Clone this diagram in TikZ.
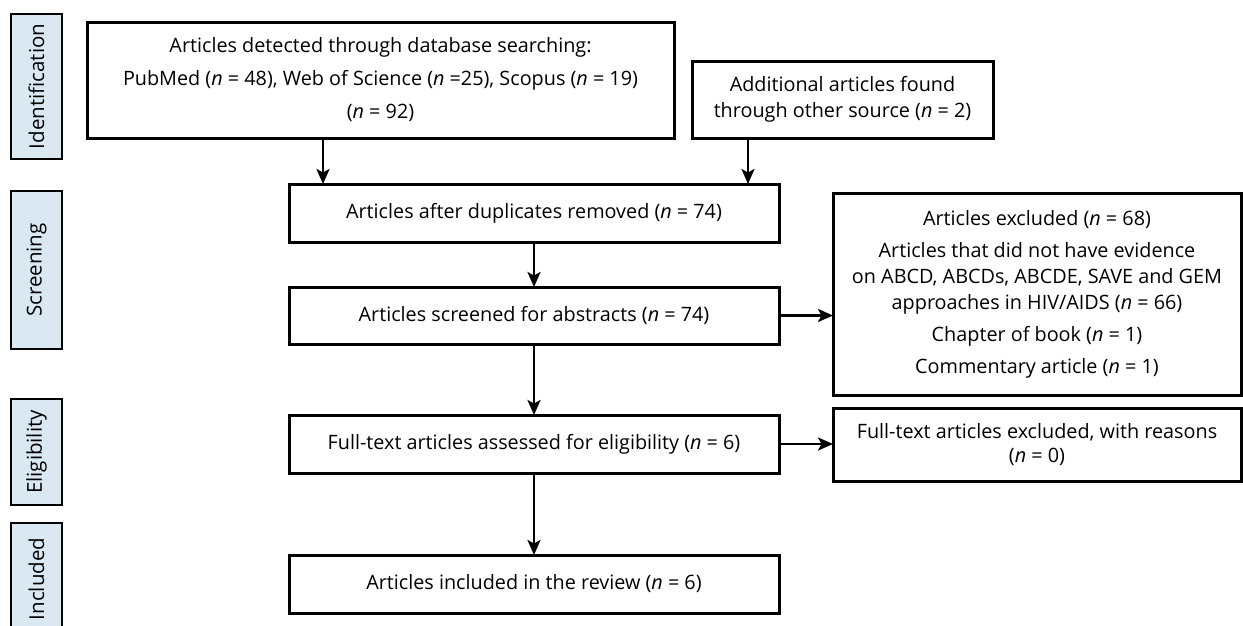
\documentclass[tikz,border=0pt]{standalone}
\usepackage{fontspec}
\setmainfont{Open Sans}
\usetikzlibrary{arrows.meta}
\definecolor{stagefill}{HTML}{DAE8F2}
\tikzset{
  box/.style={draw=black, line width=3pt, fill=white, inner sep=0pt, outer sep=0pt, align=center,
    font=\fontsize{19.8}{26}\selectfont},
  stagebox/.style={draw=black, line width=2.8pt, fill=stagefill, inner sep=0pt, outer sep=0pt,
    minimum width=51pt, font=\fontsize{20.5}{26}\selectfont},
  arr/.style={line width=2.6pt, -{Stealth[length=15pt, width=13pt, inset=3.5pt]}}
}
\newcommand{\nn}{\textit{n}}
\begin{document}
\begin{tikzpicture}[x=1pt,y=-1pt]
\useasboundingbox (0,0) rectangle (1243,625);
\clip (0,0) rectangle (1243,625);
\fill[white] (0,0) rectangle (1243,625);
% stage labels
\node[stagebox, minimum height=145pt] (s1) at (36.5,86.5) {\rotatebox{90}{Identification}};
\node[stagebox, minimum height=158pt] (s2) at (36.5,270) {\rotatebox{90}{Screening}};
\node[stagebox, minimum height=106pt] (s3) at (36.5,452) {\rotatebox{90}{Eligibility}};
\node[stagebox, minimum height=112pt] (s4) at (36.5,579) {\rotatebox{90}{Included}};
% boxes
\node[box, minimum width=587pt, minimum height=116pt] (A) at (380.5,80)
  {Articles detected through database searching:\\[7pt]
   PubMed (\nn{} = 48), Web of Science (\nn{} =25), Scopus (\nn{} = 19)\\[7pt]
   (\nn{} = 92)};
\node[box, minimum width=301pt, minimum height=77pt] (B) at (842.5,99.5)
  {Additional articles found\\ through other source (\nn{} = 2)};
\node[box, minimum width=490pt, minimum height=58pt] (C) at (534,213)
  {Articles after duplicates removed (\nn{} = 74)};
\node[box, minimum width=490pt, minimum height=57pt] (D) at (534,315.5)
  {Articles screened for abstracts (\nn{} = 74)};
\node[box, minimum width=408pt, minimum height=202pt] (E) at (1037,294)
  {Articles excluded (\nn{} = 68)\\[6pt]
   Articles that did not have evidence\\
   on ABCD, ABCDs, ABCDE, SAVE and GEM\\
   approaches in HIV/AIDS (\nn{} = 66)\\[6pt]
   Chapter of book (\nn{} = 1)\\[6pt]
   Commentary article (\nn{} = 1)};
\node[box, minimum width=490pt, minimum height=58pt] (F) at (534,444)
  {Full-text articles assessed for eligibility (\nn{} = 6)};
\node[box, minimum width=408pt, minimum height=73pt] (G) at (1037,444.5)
  {Full-text articles excluded, with reasons\\[-2pt] (\nn{} = 0)};
\node[box, minimum width=490pt, minimum height=58pt] (H) at (534,584)
  {Articles included in the review (\nn{} = 6)};
% connectors
\coordinate (c1) at ([xshift=34pt]C.north west);
\coordinate (c2) at ([xshift=-31pt]C.north east);
\draw[arr] (A.south -| c1) -- (c1);
\draw[arr] (B.south -| c2) -- (c2);
\draw[arr] (C.south) -- (D.north);
\draw[arr] (D.south) -- (F.north);
\draw[arr] (F.south) -- (H.north);
\draw[arr] (D.east) -- (D.east -| E.west);
\draw[arr] (F.east) -- (F.east -| G.west);
\end{tikzpicture}
\end{document}
